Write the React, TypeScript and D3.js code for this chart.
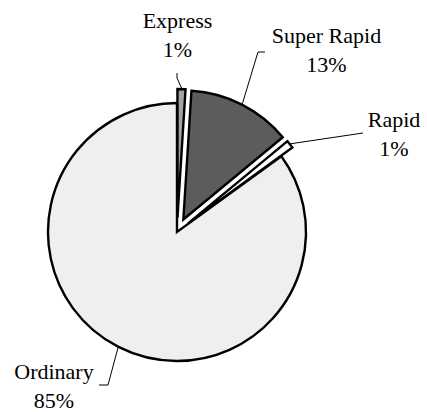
import React from "react";
import * as d3 from "d3";

// Share of services by train type
const categories = ["Express", "Super Rapid", "Rapid", "Ordinary"];
const shares = [1, 13, 1, 85];
const percentLabels = ["1%", "13%", "1%", "85%"];

const fills = ["#a3a3a3", "#5c5c5c", "#ffffff", "#efefef"];
const explode = [14, 14, 14, 0];

// Label placement: text centre, first baseline, leader elbow and end
const labelX = [177.5, 326.5, 394, 54];
const labelY = [27.5, 43, 126.5, 379];
const elbows: [number, number][] = [
  [177, 78],
  [258, 52],
  [363, 133],
  [108, 385],
];
const ends: [number, number][] = [
  [177, 73],
  [265, 52],
  [363, 133],
  [99, 385],
];

const W = 427;
const H = 412;
const cx = 177;
const cy = 232;
const R = 129;

export default function App() {
  const pie = d3
    .pie<number>()
    .sort(null)
    .value((d) => d)
    .startAngle(0)
    .endAngle(2 * Math.PI);
  const arcs = pie(shares);
  const arc = d3.arc<d3.PieArcDatum<number>>().innerRadius(0).outerRadius(R);

  return (
    <svg
      width={W}
      height={H}
      style={{ position: "absolute", left: 0, top: 0, background: "#fff" }}
    >
      <g transform={`translate(${cx},${cy})`}>
        {arcs.map((a, i) => {
          const mid = (a.startAngle + a.endAngle) / 2;
          const dx = explode[i] * Math.sin(mid);
          const dy = -explode[i] * Math.cos(mid);
          return (
            <path
              key={categories[i]}
              d={arc(a) || ""}
              transform={`translate(${dx},${dy})`}
              fill={fills[i]}
              stroke="#000"
              strokeWidth={2.4}
              strokeLinejoin="miter"
            />
          );
        })}
      </g>
      {arcs.map((a, i) => {
        const mid = (a.startAngle + a.endAngle) / 2;
        const ox = cx + explode[i] * Math.sin(mid) + (R + 1) * Math.sin(mid);
        const oy = cy - explode[i] * Math.cos(mid) - (R + 1) * Math.cos(mid);
        const pts = [[ox, oy], elbows[i], ends[i]] as [number, number][];
        return (
          <path
            key={"leader-" + categories[i]}
            d={d3.line()(pts) || ""}
            fill="none"
            stroke="#000"
            strokeWidth={1}
          />
        );
      })}
      {categories.map((c, i) => (
        <text
          key={"label-" + c}
          x={labelX[i]}
          y={labelY[i]}
          textAnchor="middle"
          fontFamily="Liberation Serif"
          fontSize={22}
          fill="#000"
        >
          <tspan x={labelX[i]}>{c}</tspan>
          <tspan x={labelX[i]} dy={29}>
            {percentLabels[i]}
          </tspan>
        </text>
      ))}
    </svg>
  );
}
